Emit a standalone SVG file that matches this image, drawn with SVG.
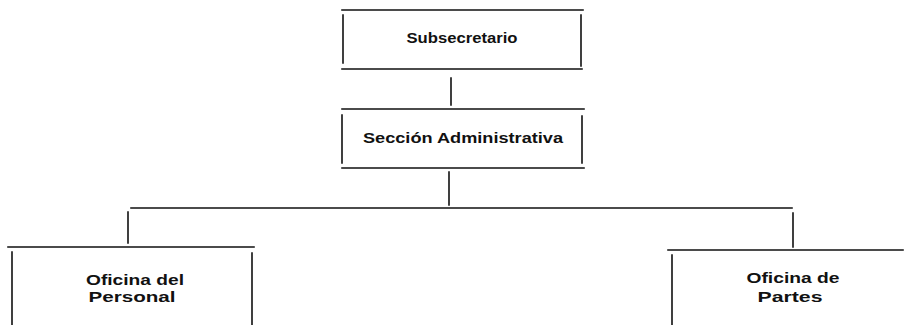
<svg xmlns="http://www.w3.org/2000/svg" width="905" height="325" viewBox="0 0 905 325">
<style>
.ln{stroke:#111;stroke-width:1.6;fill:none;stroke-linecap:square}
.t{font-family:"Liberation Sans",Arial,sans-serif;font-size:15px;font-weight:bold;fill:#111;text-anchor:middle}
</style>
<rect width="905" height="325" fill="#fff"/>
<g id="subsecretario">
<path class="ln" d="M342,10 H583 M342,69 H582 M343,15 V63 M581,15 V66"/>
<text class="t" x="462" y="43" textLength="111" lengthAdjust="spacingAndGlyphs">Subsecretario</text>
</g>
<g id="seccion-administrativa">
<path class="ln" d="M342,109 H584 M342,168 H584 M342,115 V163 M582,116 V163"/>
<text class="t" x="463" y="143" textLength="200" lengthAdjust="spacingAndGlyphs">Sección  Administrativa</text>
</g>
<g id="oficina-personal">
<path class="ln" d="M8,247 H254 M12,252 V325 M252,253 V325"/>
<text class="t" x="135" y="285" textLength="98" lengthAdjust="spacingAndGlyphs">Oficina  del</text>
<text class="t" x="132" y="302" textLength="87" lengthAdjust="spacingAndGlyphs">Personal</text>
</g>
<g id="oficina-partes">
<path class="ln" d="M668,250 H903 M672,255 V325"/>
<text class="t" x="793" y="283" textLength="93" lengthAdjust="spacingAndGlyphs">Oficina  de</text>
<text class="t" x="790" y="302" textLength="65" lengthAdjust="spacingAndGlyphs">Partes</text>
</g>
<g id="connectors">
<path class="ln" d="M451,78 V105 M449,172 V205 M131,208 H792 M128,212 V243 M793,213 V247"/>
</g>
</svg>
